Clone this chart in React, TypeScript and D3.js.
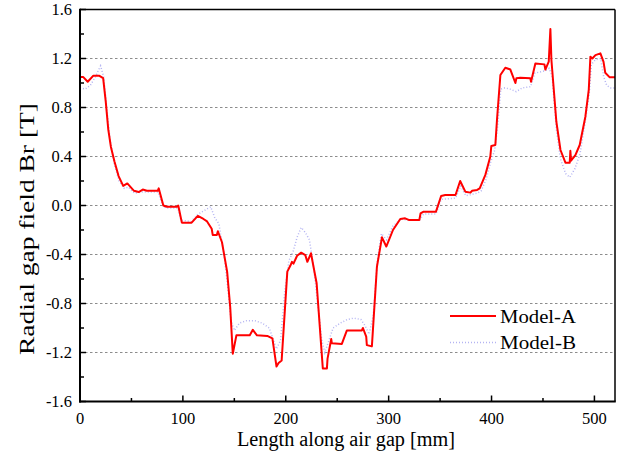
import React from "react";
import * as d3 from "d3";

const xA = [0,3,7.5,13,18.5,22.5,25,27.5,30,33.5,37.5,42,46,52.5,57,61,65,75.5,76.5,81,84.5,94,95.5,99,108.5,114.5,120,123.5,128,129,133,134,138,143,146,148.5,152,165,168,172,182,187,191,193,196,201.5,204.5,206,207.5,211,215,219,221,224.5,230,236,240,240.6,244.2,244.8,254.5,259.4,274,275,278.2,278.8,283.7,288.6,293.5,297.7,304.2,311.3,316,319.5,329.8,331,334,346,351,355,365,369.5,374.5,379.5,381,386,388.5,394,398.8,399.8,403.7,405.3,408.6,413.4,418.3,423.2,424.1,428,437.7,438.4,442.6,451.4,452.3,455.6,457.2,458.2,463,467,471.8,476,476.6,477.3,481.5,485.7,491.2,494.5,496.1,498,501,505.8,508.8,510.5,514.9,520];
const yA = [1.05,1.05,1.01,1.06,1.06,1.04,0.85,0.62,0.48,0.36,0.24,0.16,0.18,0.12,0.11,0.13,0.12,0.12,0.14,0.0,-0.01,-0.01,0.0,-0.14,-0.14,-0.085,-0.11,-0.13,-0.19,-0.24,-0.24,-0.21,-0.3,-0.54,-0.83,-1.21,-1.06,-1.06,-1.015,-1.06,-1.065,-1.085,-1.315,-1.285,-1.265,-0.54,-0.49,-0.46,-0.475,-0.41,-0.385,-0.405,-0.46,-0.39,-0.635,-1.33,-1.33,-1.25,-1.09,-1.125,-1.13,-1.02,-1.02,-1.0,-1.07,-1.14,-1.15,-0.5,-0.26,-0.335,-0.2,-0.11,-0.105,-0.118,-0.118,-0.065,-0.05,-0.05,0.078,0.086,0.086,0.2,0.113,0.105,0.12,0.127,0.14,0.25,0.4,0.486,0.494,0.7,1.065,1.125,1.11,1.0,1.038,1.043,1.038,1.01,1.16,1.152,1.11,1.174,1.44,1.188,0.684,0.453,0.35,0.35,0.447,0.366,0.412,0.494,0.725,0.943,1.215,1.2,1.228,1.242,1.174,1.084,1.046,1.046];

const xB = [0,5,10,15,20,23,26,29,33,38,43,47,53,60,66,76,79,83,95,98,108,115,121,127,131,135,140,144,147,150,155,162,170,177,184,188,191,195,199,203,207,211,215,219,223,227,231,235,238,242,246,253,260,266,273,277,281,285,289,293,298,304,312,320,330,334,346,351,365,370,375,386,390,395,399,403,406,409,413,418,424,430,438,442,452,456,459,463,467,472,476,481,486,491,495,497,501,506,509,512,516,520];
const yB = [0.96,0.95,0.98,1.05,1.14,1.05,0.8,0.55,0.35,0.2,0.14,0.15,0.1,0.11,0.11,0.11,0.03,-0.02,-0.02,-0.12,-0.13,-0.07,-0.04,-0.01,-0.1,-0.15,-0.4,-0.7,-0.95,-1.02,-0.96,-0.94,-0.94,-0.96,-1.0,-1.1,-1.17,-1.1,-0.7,-0.45,-0.38,-0.26,-0.18,-0.22,-0.28,-0.5,-0.8,-1.1,-1.2,-1.1,-1.0,-0.96,-0.93,-0.92,-0.93,-0.98,-1.05,-0.9,-0.45,-0.23,-0.28,-0.17,-0.11,-0.12,-0.12,-0.07,-0.07,0.05,0.06,0.16,0.08,0.1,0.12,0.22,0.35,0.45,0.65,0.95,0.96,0.95,0.93,0.96,0.97,1.08,1.1,1.12,1.05,0.62,0.38,0.26,0.23,0.3,0.42,0.68,0.92,1.15,1.19,1.2,1.05,0.98,0.96,0.96];

const xTicks = [0, 100, 200, 300, 400, 500];
const xMinor = [50, 150, 250, 350, 450];
const yTicks = [-1.6, -1.2, -0.8, -0.4, 0.0, 0.4, 0.8, 1.2, 1.6];
const yMinor = [-1.4, -1.0, -0.6, -0.2, 0.2, 0.6, 1.0, 1.4];
const gridY = [-1.2, -0.8, -0.4, 0.0, 0.4, 0.8, 1.2];
const seriesNames = ["Model-A", "Model-B"];

const W = 633, H = 458;
const L = 80, R = 615, T = 9.5, B = 401.5;

export default function App() {
  const x = d3.scaleLinear().domain([0, 520]).range([L, R]);
  const y = d3.scaleLinear().domain([-1.6, 1.6]).range([B, T]);
  const line = d3.line<[number, number]>().x(d => x(d[0])).y(d => y(d[1]));
  const dA = line(xA.map((v, i) => [v, yA[i]]) as [number, number][]) || "";
  const dB = line(xB.map((v, i) => [v, yB[i]]) as [number, number][]) || "";
  const font = "'Liberation Serif', 'Times New Roman', serif";
  return (
    <svg width={W} height={H} style={{ position: "absolute", left: 0, top: 0, background: "#fff" }} fontFamily={font}>
      <rect x={0} y={0} width={W} height={H} fill="#fff" />
      {gridY.map(v => (
        <line key={"g" + v} x1={L} x2={R} y1={y(v)} y2={y(v)} stroke="#8c8c8c" strokeWidth={1} strokeDasharray="2.5,2.5" />
      ))}
      <path d={dB} fill="none" stroke="#b4b4f2" strokeWidth={1.5} strokeDasharray="1,2" />
      <path d={dA} fill="none" stroke="#ff0000" strokeWidth={2} strokeLinejoin="round" />
      {/* frame */}
      <line x1={L} x2={R} y1={T} y2={T} stroke="#000" strokeWidth={1.5} />
      <line x1={R} x2={R} y1={T} y2={B} stroke="#000" strokeWidth={1.5} />
      <line x1={L} x2={L} y1={T - 0.75} y2={B + 1} stroke="#000" strokeWidth={2} />
      <line x1={L - 1} x2={R + 0.75} y1={B} y2={B} stroke="#000" strokeWidth={2} />
      {yTicks.map(v => (
        <g key={"yt" + v}>
          <line x1={L} x2={L + 6} y1={y(v)} y2={y(v)} stroke="#000" strokeWidth={1.5} />
          <text x={72} y={y(v)} dy="0.35em" textAnchor="end" fontSize={16.5} fill="#000">{v.toFixed(1)}</text>
        </g>
      ))}
      {yMinor.map(v => (
        <line key={"ym" + v} x1={L} x2={L + 4} y1={y(v)} y2={y(v)} stroke="#000" strokeWidth={1.5} />
      ))}
      {xTicks.map(v => (
        <g key={"xt" + v}>
          <line x1={x(v)} x2={x(v)} y1={B} y2={B - 6} stroke="#000" strokeWidth={1.5} />
          <text x={x(v)} y={424} textAnchor="middle" fontSize={16.5} fill="#000">{v}</text>
        </g>
      ))}
      {xMinor.map(v => (
        <line key={"xm" + v} x1={x(v)} x2={x(v)} y1={B} y2={B - 3.5} stroke="#000" strokeWidth={1.5} />
      ))}
      <text x={346} y={446} textAnchor="middle" fontSize={20.5} fill="#000" textLength={218} lengthAdjust="spacingAndGlyphs">Length along air gap [mm]</text>
      <text transform="translate(33.5,229) rotate(-90)" textAnchor="middle" fontSize={22} fill="#000" textLength={252} lengthAdjust="spacingAndGlyphs">Radial gap field Br [T]</text>
      {/* legend */}
      <line x1={450} x2={496} y1={316} y2={316} stroke="#ff0000" strokeWidth={2} />
      <text x={500} y={323} fontSize={18.5} fill="#000" textLength={76} lengthAdjust="spacingAndGlyphs">{seriesNames[0]}</text>
      <line x1={450} x2={496} y1={342.5} y2={342.5} stroke="#b4b4f2" strokeWidth={1.5} strokeDasharray="1,2" />
      <text x={500} y={349} fontSize={18.5} fill="#000" textLength={76} lengthAdjust="spacingAndGlyphs">{seriesNames[1]}</text>
    </svg>
  );
}
